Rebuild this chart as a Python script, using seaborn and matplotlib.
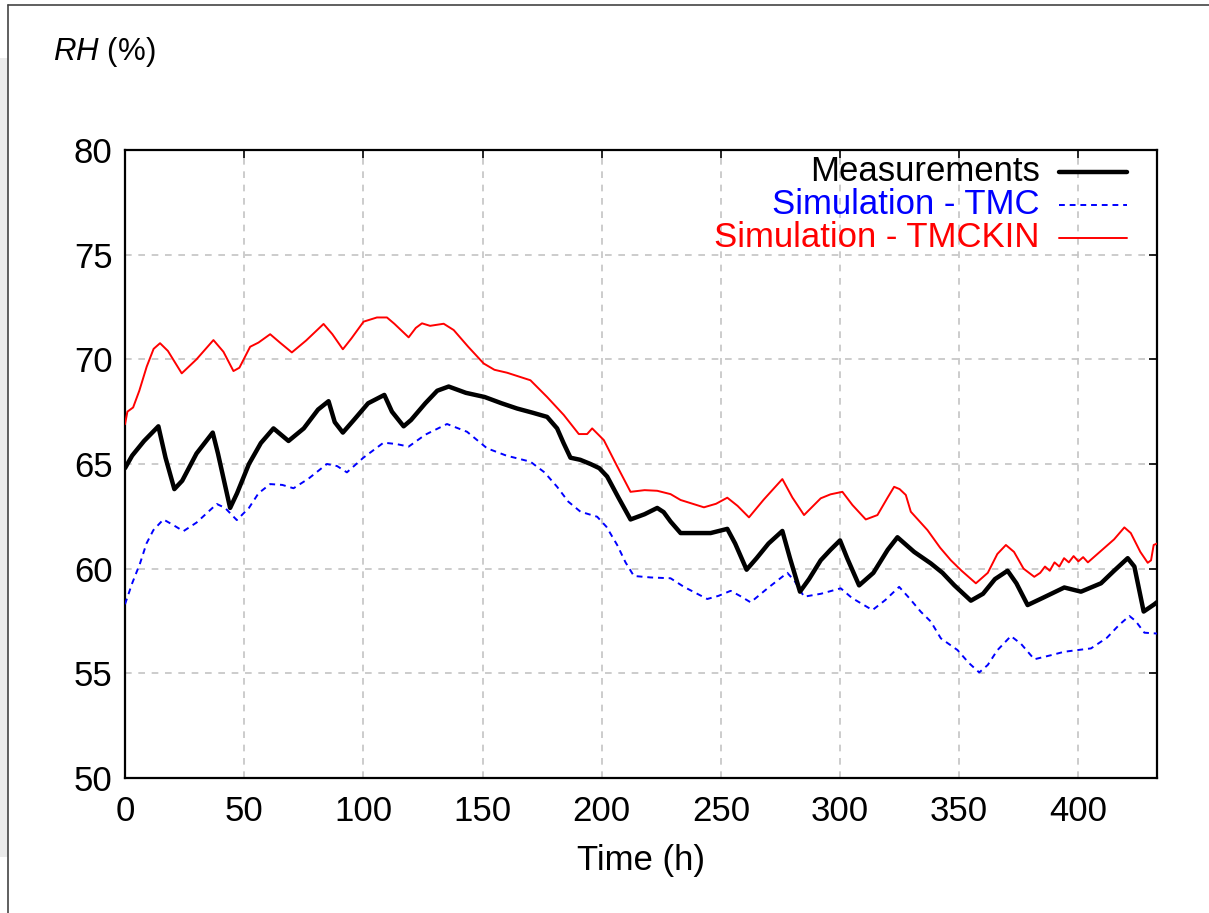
import matplotlib
matplotlib.use("Agg")
import matplotlib.pyplot as plt
import matplotlib.lines as mlines
import matplotlib.patches as mpatches
import pandas as pd
import seaborn as sns

# ── Data ───────────────────────────────────────────────────────────────────────
t_meas = [0, 3, 8, 14, 17, 20.7, 24, 30, 36.8, 39, 44.1, 47, 52, 57, 62.3, 68.6,
          75, 81, 85.4, 88, 91.4, 96, 102, 108.8, 112, 116.9, 120, 126, 131, 135.8,
          143, 150.9, 158, 164.5, 171, 177.1, 181.3, 184, 186.9, 191, 195.3, 199,
          202.3, 207, 212.1, 218, 223.3, 226, 228.9, 233.1, 240, 245.7, 252.7, 256,
          260.8, 265, 270, 275.8, 279, 283.2, 287, 291.9, 296, 300, 303, 308, 314,
          320, 324.1, 331.1, 338.1, 343, 348, 354.9, 360, 365, 370.3, 374, 378.7,
          385, 394.1, 401.1, 409.5, 415, 420.7, 423.5, 427.4, 431.9, 433]
rh_meas = [64.8, 65.4, 66.1, 66.8, 65.3, 63.8, 64.2, 65.5, 66.5, 65.5, 62.9, 63.6,
           65.0, 66.0, 66.7, 66.1, 66.7, 67.6, 68.0, 67.0, 66.5, 67.1, 67.9, 68.3,
           67.5, 66.8, 67.1, 67.9, 68.5, 68.7, 68.4, 68.2, 67.9, 67.65, 67.45, 67.25,
           66.7, 66.0, 65.3, 65.2, 65.0, 64.8, 64.4, 63.4, 62.35, 62.6, 62.9, 62.7,
           62.25, 61.7, 61.7, 61.7, 61.9, 61.2, 59.95, 60.5, 61.2, 61.8, 60.5, 58.9,
           59.5, 60.4, 60.9, 61.35, 60.5, 59.2, 59.8, 60.9, 61.5, 60.8, 60.25, 59.8,
           59.2, 58.47, 58.8, 59.5, 59.9, 59.3, 58.26, 58.6, 59.1, 58.9, 59.3, 59.9,
           60.5, 60.1, 57.95, 58.3, 58.4]

t_tmc = [0, 3, 6.3, 9, 11.9, 16.1, 20, 24.5, 30, 38.5, 42, 46.9, 52, 56, 60.9, 66,
         70.7, 77, 84.7, 89, 93.1, 100, 108.5, 114, 119, 126, 135.1, 143.5, 151.9,
         160, 170.1, 176, 181.3, 186, 191.1, 198.1, 202, 206.5, 210, 213.5, 220.5,
         228.9, 234.5, 244.3, 249, 254.1, 258, 262.5, 270, 277.9, 281, 284.9, 292,
         300.3, 305, 313.6, 319, 324.8, 329, 333.9, 338.1, 342.3, 349.3, 354, 358.4,
         362, 366, 371.7, 376, 381.5, 388, 394.1, 405.3, 412, 417, 421.4, 424, 427.7,
         433]
rh_tmc = [58.3, 59.3, 60.25, 61.2, 61.84, 62.35, 62.1, 61.79, 62.2, 63.09, 62.9,
          62.32, 62.9, 63.6, 64.04, 64.0, 63.84, 64.3, 65.0, 64.9, 64.6, 65.3, 66.02,
          65.95, 65.83, 66.4, 66.91, 66.54, 65.75, 65.4, 65.11, 64.6, 63.91, 63.2,
          62.72, 62.48, 62.0, 61.13, 60.3, 59.65, 59.58, 59.54, 59.13, 58.55, 58.7,
          58.94, 58.7, 58.39, 59.1, 59.8, 59.4, 58.66, 58.8, 59.06, 58.6, 58.02, 58.5,
          59.13, 58.6, 57.94, 57.47, 56.67, 56.11, 55.5, 55.04, 55.4, 56.1, 56.78,
          56.4, 55.67, 55.85, 56.03, 56.19, 56.7, 57.3, 57.74, 57.5, 56.94, 56.9]

t_kin = [0, 1, 3.4, 6, 9.1, 12, 14.7, 18, 23.8, 30, 37.1, 41.3, 45.5, 48, 52.5, 56,
         60.9, 65, 70, 76, 83.3, 87, 91.4, 95, 100.1, 105.7, 109.9, 113, 119, 122,
         124.6, 128, 133.7, 137.9, 144, 150.5, 155, 160.3, 170.1, 177.1, 184.1, 190.4,
         193.9, 196, 200.9, 206, 212.1, 218, 223.3, 228.9, 233.1, 242.9, 248, 252.7,
         257, 261.8, 268, 275.8, 280, 284.9, 291.9, 296, 301, 305.2, 310.8, 315.7,
         320, 322.7, 325, 327.6, 329.7, 336.7, 342, 346.5, 351, 357, 362, 366, 369.6,
         373, 377, 381.5, 384, 386, 388, 390, 392, 394, 396, 398, 400, 402, 404, 406,
         410, 415, 419.3, 422, 426, 429.1, 430.5, 431.6, 433]
rh_kin = [66.9, 67.5, 67.7, 68.5, 69.65, 70.5, 70.77, 70.4, 69.33, 70.0, 70.92, 70.36,
          69.44, 69.6, 70.6, 70.8, 71.2, 70.8, 70.33, 70.9, 71.69, 71.2, 70.48, 71.0,
          71.8, 72.0, 72.0, 71.7, 71.05, 71.5, 71.72, 71.6, 71.7, 71.4, 70.6, 69.8,
          69.5, 69.36, 69.0, 68.2, 67.34, 66.43, 66.43, 66.7, 66.14, 65.0, 63.67,
          63.75, 63.72, 63.56, 63.28, 62.93, 63.1, 63.39, 63.0, 62.45, 63.3, 64.28,
          63.4, 62.56, 63.36, 63.55, 63.67, 63.04, 62.35, 62.56, 63.4, 63.91, 63.8,
          63.52, 62.72, 61.84, 61.0, 60.4, 59.9, 59.3, 59.8, 60.7, 61.13, 60.8, 60.0,
          59.61, 59.8, 60.1, 59.9, 60.3, 60.1, 60.5, 60.3, 60.6, 60.35, 60.55, 60.3,
          60.5, 60.9, 61.4, 61.97, 61.7, 60.8, 60.28, 60.4, 61.13, 61.2]

x_ticks = [0, 50, 100, 150, 200, 250, 300, 350, 400]
y_ticks = [50, 55, 60, 65, 70, 75, 80]

series_names = ["Measurements", "Simulation - TMC", "Simulation - TMCKIN"]
series_colors = ["black", "#0000ff", "#ff0000"]

# ── Style ──────────────────────────────────────────────────────────────────────
sns.set_style("white")
plt.rcParams["font.family"] = ["Liberation Sans", "DejaVu Sans"]
plt.rcParams["mathtext.fontset"] = "custom"
plt.rcParams["mathtext.it"] = "Liberation Sans:italic"
plt.rcParams["mathtext.rm"] = "Liberation Sans"

fig = plt.figure(figsize=(12.09, 9.13), dpi=100)
ax = fig.add_axes([0.1034, 0.1479, 0.8536, 0.6878])

df_meas = pd.DataFrame({"t": t_meas, "rh": rh_meas})
df_tmc = pd.DataFrame({"t": t_tmc, "rh": rh_tmc})
df_kin = pd.DataFrame({"t": t_kin, "rh": rh_kin})

sns.lineplot(data=df_kin, x="t", y="rh", ax=ax, color=series_colors[2], lw=1.4,
             zorder=3, legend=False)
sns.lineplot(data=df_tmc, x="t", y="rh", ax=ax, color=series_colors[1], lw=1.4,
             zorder=3, legend=False)
ax.lines[-1].set_linestyle((0, (3, 2.5)))
sns.lineplot(data=df_meas, x="t", y="rh", ax=ax, color=series_colors[0], lw=3.2,
             zorder=4, legend=False)

ax.set_xlim(0, 433)
ax.set_ylim(50, 80)
ax.set_xticks(x_ticks)
ax.set_yticks(y_ticks)
ax.grid(True, color="#c4c4c4", linestyle=(0, (4, 4)), lw=1.2)
for s in ax.spines.values():
    s.set_color("black")
    s.set_linewidth(1.6)
ax.tick_params(axis="both", which="both", direction="in", length=6, width=1.2,
               top=True, right=True, labelsize=25, colors="black")
ax.tick_params(axis="y", pad=9)
ax.tick_params(axis="x", pad=12)
ax.set_xlabel("Time (h)", fontsize=25, labelpad=12, color="black")
ax.set_ylabel("")

# legend, gnuplot style: right-aligned coloured text, sample line to the right
leg_y = [0.965, 0.9125, 0.860]
leg_styles = [dict(lw=3.2), dict(lw=1.4, ls=(0, (3, 2.5))), dict(lw=1.4)]
for name, c, y, st in zip(series_names, series_colors, leg_y, leg_styles):
    ax.text(0.8866, y, name, transform=ax.transAxes, ha="right", va="center",
            fontsize=25, color=c, zorder=6)
    ax.add_line(mlines.Line2D([0.905, 0.971], [y, y], transform=ax.transAxes,
                              color=c, zorder=6, **st))

fig.text(0.044, 0.943, r"$\mathit{RH}$ (%)", fontsize=22.5, va="center", ha="left",
         color="black")

# page frame: top and left border, light grey strip
fig.add_artist(mpatches.Rectangle((0, 1 - 857 / 913), 8 / 1209, (857 - 58) / 913,
                                  transform=fig.transFigure, color="#ebebeb", lw=0))
fig.add_artist(mlines.Line2D([8 / 1209, 1], [1 - 5 / 913, 1 - 5 / 913],
                             transform=fig.transFigure, color="#444444", lw=1.2))
fig.add_artist(mlines.Line2D([8 / 1209, 8 / 1209], [0, 1 - 5 / 913],
                             transform=fig.transFigure, color="#444444", lw=1.2))

fig.savefig("out.png", dpi=100)
plt.close(fig)
